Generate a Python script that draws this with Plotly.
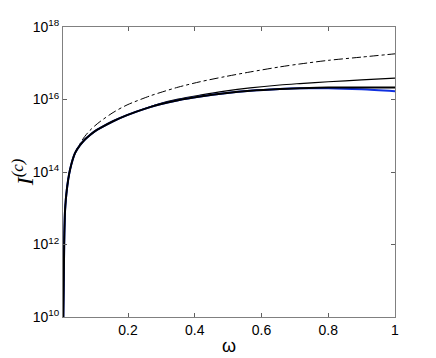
import plotly.graph_objects as go

omega = [0.006, 0.0085, 0.0112, 0.0163, 0.026, 0.041, 0.056, 0.07, 0.086, 0.1, 0.116, 0.155, 0.197, 0.266, 0.296, 0.35, 0.416, 0.49, 0.566, 0.655, 0.715, 0.8, 0.9, 1.0]
log_main = [10.0, 12.0, 12.95, 13.5, 14.06, 14.52, 14.74, 14.89, 15.02, 15.12, 15.21, 15.40, 15.57, 15.79, 15.87, 15.98, 16.08, 16.17, 16.24, 16.29, 16.31, 16.33, 16.33, 16.33]
log_blue = [10.0, 12.0, 12.95, 13.5, 14.06, 14.52, 14.74, 14.89, 15.02, 15.12, 15.21, 15.40, 15.57, 15.79, 15.87, 15.98, 16.08, 16.17, 16.24, 16.29, 16.31, 16.31, 16.28, 16.23]
log_upper = [10.0, 12.0, 12.95, 13.5, 14.06, 14.52, 14.74, 14.89, 15.02, 15.12, 15.21, 15.40, 15.57, 15.80, 15.89, 16.01, 16.12, 16.23, 16.32, 16.40, 16.44, 16.49, 16.54, 16.59]
log_dash = [10.0, 12.0, 12.95, 13.5, 14.06, 14.53, 14.78, 14.98, 15.15, 15.27, 15.39, 15.64, 15.85, 16.10, 16.19, 16.34, 16.49, 16.63, 16.76, 16.90, 16.98, 17.08, 17.17, 17.26]

ytick_vals = [1e10, 1e12, 1e14, 1e16, 1e18]
ytick_text = ["10<sup>10</sup>", "10<sup>12</sup>", "10<sup>14</sup>", "10<sup>16</sup>", "10<sup>18</sup>"]
xtick_vals = [0.2, 0.4, 0.6, 0.8, 1.0]
xtick_text = ["0.2", "0.4", "0.6", "0.8", "1"]

def tv(logs):
    return [10 ** v for v in logs]

fig = go.Figure()
fig.add_trace(go.Scatter(x=omega, y=tv(log_dash), mode="lines",
                         line=dict(color="black", width=1, dash="dashdot", shape="spline", smoothing=0.8)))
fig.add_trace(go.Scatter(x=omega, y=tv(log_upper), mode="lines",
                         line=dict(color="black", width=1.2, shape="spline", smoothing=0.8)))
fig.add_trace(go.Scatter(x=omega, y=tv(log_blue), mode="lines",
                         line=dict(color="#1030e0", width=2, shape="spline", smoothing=0.8)))
fig.add_trace(go.Scatter(x=omega, y=tv(log_main), mode="lines",
                         line=dict(color="black", width=2, shape="spline", smoothing=0.8)))

axis_common = dict(showline=True, linecolor="#808080", linewidth=1, mirror="ticks",
                   ticks="inside", ticklen=4, tickcolor="#606060", showgrid=False,
                   zeroline=False, automargin=False,
                   tickfont=dict(family="Liberation Sans, Arial", size=14, color="black"))

fig.update_layout(
    width=428, height=350,
    margin=dict(l=55, r=41, t=19, b=41),
    paper_bgcolor="white", plot_bgcolor="white",
    showlegend=False,
    xaxis=dict(range=[0.005, 1.0], tickvals=xtick_vals, ticktext=xtick_text,
               title=dict(text="ω", font=dict(family="Liberation Sans, Arial", size=18, color="black"), standoff=2),
               **axis_common),
    yaxis=dict(type="log", range=[10, 18], tickvals=ytick_vals, ticktext=ytick_text,
               title=dict(text="<i>I<sup>(c)</sup></i>", font=dict(family="Liberation Serif, Times New Roman", size=24, color="black"), standoff=4),
               **axis_common),
)

fig.write_html("out.html")
